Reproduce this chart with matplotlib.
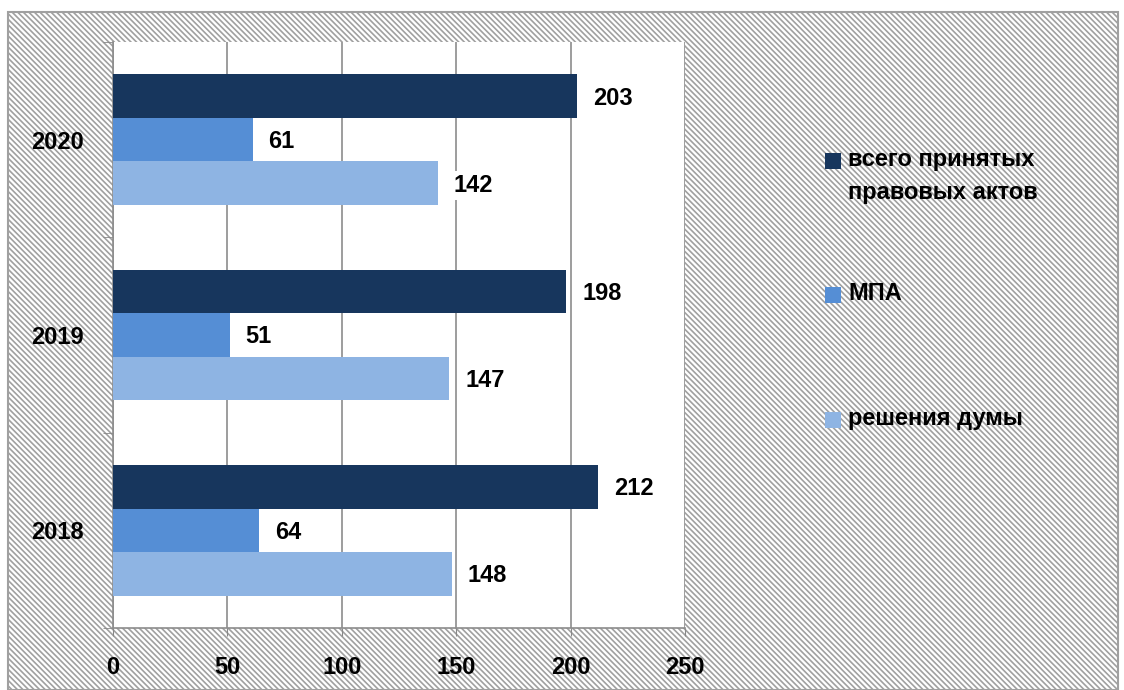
import matplotlib.pyplot as plt
from matplotlib.patches import Rectangle
import numpy as np

years = ['2018', '2019', '2020']
total_acts = [212, 198, 203]
mpa = [64, 51, 61]
duma = [148, 147, 142]

series_names = ['всего принятых\nправовых актов', 'МПА', 'решения думы']
colors = ['#17365D', '#558ED5', '#8EB4E3']

plt.rcParams['font.family'] = ['Liberation Sans', 'DejaVu Sans']
plt.rcParams['font.weight'] = 'bold'
plt.rcParams['hatch.color'] = '#c2c2c2'
plt.rcParams['hatch.linewidth'] = 1.2

FS = 17

fig = plt.figure(figsize=(11.24, 6.9), dpi=100)

# заштрихованный фон и рамка диаграммы
bg = Rectangle((8 / 1124, 0), 1110 / 1124, 1 - 12 / 690, transform=fig.transFigure,
               facecolor='white', edgecolor='#a0a0a0', linewidth=1.5,
               hatch='\\\\\\\\\\\\', zorder=-10)
fig.patches.append(bg)

ax = fig.add_axes([113 / 1124, 62 / 690, 572 / 1124, 586 / 690])
ax.set_facecolor('white')

y = np.arange(len(years))
h = 0.223
series = [total_acts, mpa, duma]
for i, (vals, c) in enumerate(zip(series, colors)):
    pos = y + h - i * h
    bars = ax.barh(pos, vals, height=h, color=c, zorder=3)
    for b, v in zip(bars, vals):
        ax.text(v + 7, b.get_y() + h / 2 - 0.01, str(v), va='center', ha='left',
                fontsize=FS, fontweight='bold', zorder=4,
                bbox=dict(facecolor='white', edgecolor='none', pad=2))

ax.set_xlim(0, 250)
ax.set_ylim(-0.5, 2.5)
ax.set_xticks(range(0, 251, 50))
ax.tick_params(axis='x', labelsize=FS, length=6, color='#888888', pad=14)
ax.set_yticks(y)
ax.set_yticklabels(years, fontsize=FS, fontweight='bold')
ax.tick_params(axis='y', length=0, pad=21)
ax.set_yticks([-0.5, 0.5, 1.5, 2.5], minor=True)
ax.tick_params(axis='y', which='minor', length=7, color='#888888')
for lab in ax.get_xticklabels():
    lab.set_fontweight('bold')

ax.grid(axis='x', color='#8c8c8c', linewidth=1.2, zorder=0)
for s in ['top', 'right']:
    ax.spines[s].set_visible(False)
for s in ['left', 'bottom']:
    ax.spines[s].set_color('#8c8c8c')
    ax.spines[s].set_linewidth(1.2)

# легенда
legend_y = [161, 295, 420]
for name, c, ly in zip(series_names, colors, legend_y):
    fig.patches.append(Rectangle((825 / 1124, 1 - (ly + 8) / 690), 16 / 1124, 16 / 690,
                                 transform=fig.transFigure, facecolor=c, edgecolor='none'))
    fig.text(848 / 1124, 1 - (ly - 13) / 690, name, va='top', ha='left',
             fontsize=FS, fontweight='bold', linespacing=1.55)

fig.savefig('out.png', dpi=100)
